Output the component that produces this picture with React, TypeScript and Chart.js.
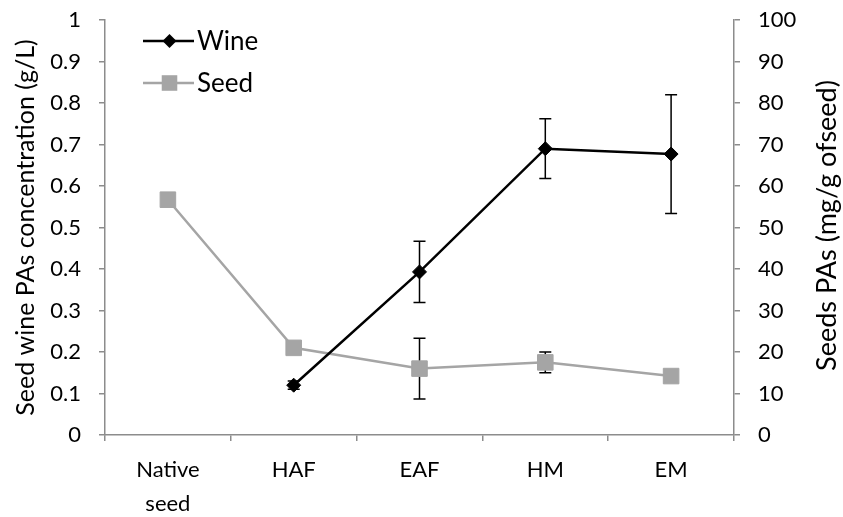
import React, { useEffect, useRef } from 'react';
import { Chart, registerables } from 'chart.js';
Chart.register(...registerables);

const categories: (string | string[])[] = [['Native', 'seed'], 'HAF', 'EAF', 'HM', 'EM'];
const wineValues = [null, 0.12, 0.393, 0.69, 0.677];
const wineErrors = [null, 0.01, 0.074, 0.072, 0.143];
const seedValues = [56.7, 21.0, 16.0, 17.5, 14.2];
const seedErrors = [null, null, 7.3, 2.5, null];
const seriesNames = ['Wine', 'Seed'];
const leftTitle = 'Seed wine PAs concentration (g/L)';
const rightTitle = 'Seeds PAs (mg/g ofseed)';

const FONT = 'Lato';
const AXIS = '#8c8c8c';
const GRAY = '#a5a5a5';
const TITLE_SIZE = 25;
const RIGHT_TITLE_SIZE = 27;

const errorBarPlugin = {
  id: 'errorBars',
  beforeDatasetsDraw(chart: any) {
    const ctx = chart.ctx;
    chart.data.datasets.forEach((ds: any, i: number) => {
      const errs = ds.errors as (number | null)[];
      if (!errs) return;
      const yScale = chart.scales[ds.yAxisID];
      const meta = chart.getDatasetMeta(i);
      meta.data.forEach((pt: any, j: number) => {
        const v = ds.data[j];
        const e = errs[j];
        if (v == null || e == null) return;
        const x = pt.x;
        const yTop = yScale.getPixelForValue(v + e);
        const yBot = yScale.getPixelForValue(v - e);
        ctx.save();
        ctx.strokeStyle = '#000';
        ctx.lineWidth = 1.5;
        ctx.beginPath();
        ctx.moveTo(x, yTop);
        ctx.lineTo(x, yBot);
        ctx.moveTo(x - 6, yTop);
        ctx.lineTo(x + 6, yTop);
        ctx.moveTo(x - 6, yBot);
        ctx.lineTo(x + 6, yBot);
        ctx.stroke();
        ctx.restore();
      });
    });
  },
};

const rightTitlePlugin = {
  id: 'rightTitle',
  afterDraw(chart: any) {
    const ctx = chart.ctx;
    const a = chart.chartArea;
    ctx.save();
    ctx.translate(chart.width - 16, (a.top + a.bottom) / 2 - 2);
    ctx.rotate(-Math.PI / 2);
    ctx.fillStyle = '#000';
    ctx.font = `${RIGHT_TITLE_SIZE}px ${FONT}`;
    ctx.textAlign = 'center';
    ctx.textBaseline = 'middle';
    ctx.fillText(rightTitle, 0, 0);
    ctx.restore();
  },
};

const legendPlugin = {
  id: 'insideLegend',
  afterDraw(chart: any) {
    const ctx = chart.ctx;
    const a = chart.chartArea;
    const items = [
      { name: seriesNames[0], color: '#000', style: 'rectRot', radius: 7 },
      { name: seriesNames[1], color: GRAY, style: 'rect', radius: 11 },
    ];
    items.forEach((it, k) => {
      const y = a.top + 21 + k * 42;
      const x0 = a.left + 38;
      const x1 = a.left + 89;
      ctx.save();
      ctx.strokeStyle = it.color;
      ctx.lineWidth = 2.5;
      ctx.beginPath();
      ctx.moveTo(x0, y);
      ctx.lineTo(x1, y);
      ctx.stroke();
      ctx.restore();
      ctx.save();
      ctx.fillStyle = it.color;
      const cx = (x0 + x1) / 2 + 1;
      if (it.style === 'rectRot') {
        ctx.beginPath();
        ctx.moveTo(cx, y - it.radius);
        ctx.lineTo(cx + it.radius, y);
        ctx.lineTo(cx, y + it.radius);
        ctx.lineTo(cx - it.radius, y);
        ctx.closePath();
        ctx.fill();
      } else {
        const s = it.radius * Math.SQRT1_2;
        ctx.fillRect(cx - s, y - s, 2 * s, 2 * s);
      }
      ctx.restore();
      ctx.save();
      ctx.fillStyle = '#000';
      ctx.font = `26px ${FONT}`;
      ctx.textBaseline = 'middle';
      ctx.textAlign = 'left';
      ctx.fillText(it.name, x1 + 3, y + 1);
      ctx.restore();
    });
  },
};

export default function App() {
  const ref = useRef<HTMLCanvasElement>(null);
  useEffect(() => {
    if (!ref.current) return;
    const tickFont = { family: FONT, size: 22 };
    const titleFont = { family: FONT, size: TITLE_SIZE };
    const zeroPadY = (s: any, w: number) => {
      s.width = w;
      s.paddingTop = 0;
      s.paddingBottom = 0;
    };
    const chart = new Chart(ref.current, {
      type: 'line',
      data: {
        labels: categories as any,
        datasets: [
          {
            label: seriesNames[0],
            data: wineValues as any,
            yAxisID: 'y',
            borderColor: '#000',
            backgroundColor: '#000',
            borderWidth: 2.5,
            pointStyle: 'rectRot',
            pointRadius: 7,
            pointBorderWidth: 1,
            tension: 0,
            errors: wineErrors,
          } as any,
          {
            label: seriesNames[1],
            data: seedValues,
            yAxisID: 'y1',
            borderColor: GRAY,
            backgroundColor: GRAY,
            borderWidth: 2.5,
            pointStyle: 'rect',
            pointRadius: 11,
            pointBorderWidth: 1,
            tension: 0,
            errors: seedErrors,
          } as any,
        ],
      },
      options: {
        animation: false,
        responsive: true,
        maintainAspectRatio: false,
        layout: { padding: { top: 20, left: 0, right: 0, bottom: 0 } },
        plugins: { legend: { display: false }, tooltip: { enabled: false } },
        scales: {
          x: {
            type: 'category',
            offset: true,
            grid: { display: true, drawOnChartArea: false, offset: true, tickLength: 6, color: AXIS, lineWidth: 1.5 },
            border: { color: AXIS, width: 1.5 },
            ticks: { font: { ...tickFont, lineHeight: 1.55 }, color: '#000', padding: 12, maxRotation: 0, autoSkip: false },
            afterFit: (s: any) => {
              s.height = 82;
              s.paddingLeft = 0;
              s.paddingRight = 0;
            },
          },
          y: {
            type: 'linear',
            position: 'left',
            min: 0,
            max: 1,
            ticks: {
              stepSize: 0.1,
              font: tickFont,
              color: '#000',
              padding: 18,
              callback: (v: any) => String(Number(Number(v).toFixed(1))),
            },
            grid: { display: true, drawOnChartArea: false, tickLength: 6, color: AXIS, lineWidth: 1.5 },
            border: { color: AXIS, width: 1.5 },
            title: { display: true, text: leftTitle, font: titleFont, color: '#000', padding: { top: 11, bottom: 0 } },
            afterFit: (s: any) => zeroPadY(s, 105),
          },
          y1: {
            type: 'linear',
            position: 'right',
            min: 0,
            max: 100,
            ticks: { stepSize: 10, font: tickFont, color: '#000', padding: 18 },
            grid: { display: true, drawOnChartArea: false, tickLength: 6, color: AXIS, lineWidth: 1.5 },
            border: { color: AXIS, width: 1.5 },
            afterFit: (s: any) => zeroPadY(s, 109),
          },
        },
      } as any,
      plugins: [errorBarPlugin, legendPlugin, rightTitlePlugin],
    });
    return () => chart.destroy();
  }, []);
  return (
    <div style={{ position: 'absolute', left: 0, top: 0, width: 843, height: 517, background: '#fff' }}>
      <canvas ref={ref} />
    </div>
  );
}
